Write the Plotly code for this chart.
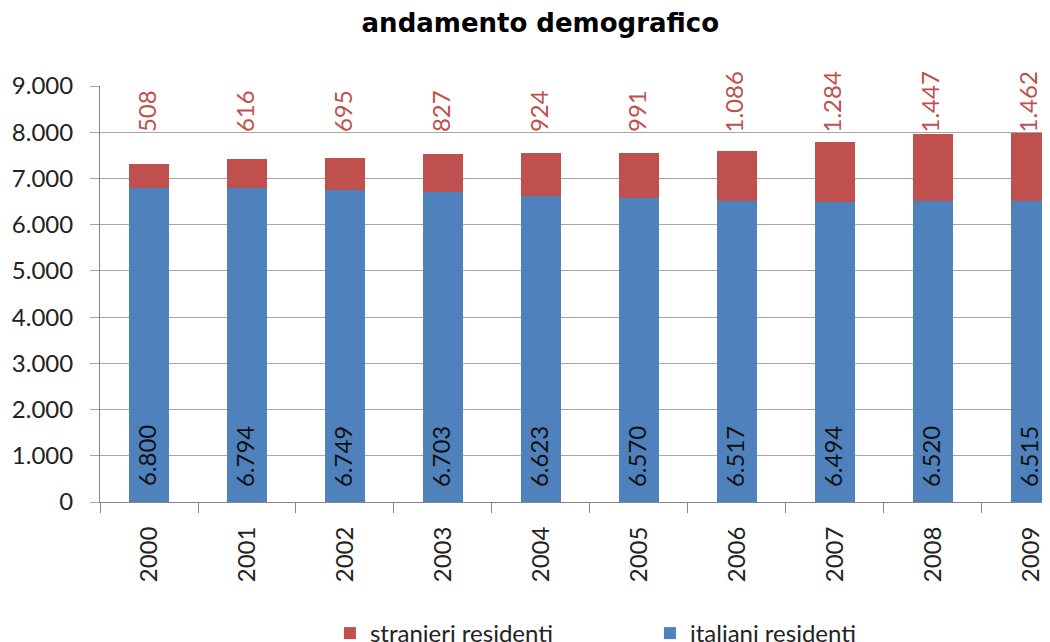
import plotly.graph_objects as go

years = ["2000", "2001", "2002", "2003", "2004", "2005", "2006", "2007", "2008", "2009"]
italiani = [6800, 6794, 6749, 6703, 6623, 6570, 6517, 6494, 6520, 6515]
stranieri = [508, 616, 695, 827, 924, 991, 1086, 1284, 1447, 1462]
y_ticks = [0, 1000, 2000, 3000, 4000, 5000, 6000, 7000, 8000, 9000]

BLUE = "#4F81BD"
RED = "#C0504D"
FONT = "Lato"


def fmt(v):
    return f"{v:,}".replace(",", ".")


fig = go.Figure()
fig.add_trace(go.Bar(x=years, y=italiani, name="italiani residenti",
                     marker=dict(color=BLUE, line=dict(width=0))))
fig.add_trace(go.Bar(x=years, y=stranieri, name="stranieri residenti",
                     marker=dict(color=RED, line=dict(width=0))))

annotations = []
for i, (it, st) in enumerate(zip(italiani, stranieri)):
    annotations.append(dict(x=i, y=7960, xref="x", yref="y", text=fmt(st),
                            textangle=-90, showarrow=False, yanchor="bottom",
                            xanchor="center", xshift=-3,
                            font=dict(family=FONT, size=24, color=RED)))
    annotations.append(dict(x=i, y=290, xref="x", yref="y", text=fmt(it),
                            textangle=-90, showarrow=False, yanchor="bottom",
                            xanchor="center", xshift=-3,
                            font=dict(family=FONT, size=24, color="#111111")))

fig.update_layout(
    width=1050, height=642,
    barmode="stack", bargap=0.59,
    separators=",.",
    plot_bgcolor="white", paper_bgcolor="white",
    margin=dict(l=92, r=0, t=78, b=148, autoexpand=False),
    title=dict(text="<b>andamento demografico</b>", x=0.507, xref="container", xanchor="center",
               y=0.977, yref="container", yanchor="middle",
               font=dict(family="DejaVu Sans", size=26, color="black")),
    font=dict(family=FONT, size=24, color="#222222"),
    legend=dict(orientation="h", traceorder="reversed", x=0.24, xanchor="left",
                y=-0.262, yanchor="top", font=dict(family=FONT, size=24, color="#222222"),
                entrywidth=275, entrywidthmode="pixels", itemwidth=30),
    annotations=annotations,
    showlegend=True,
)
fig.update_xaxes(type="category", range=[-0.5, 9.276], tickangle=-90, automargin=False,
                 showline=True, linecolor="#868686", linewidth=1,
                 ticks="outside", tickson="boundaries", ticklen=10, tickcolor="#868686",
                 ticklabelstandoff=14,
                 showgrid=False, tickfont=dict(family=FONT, size=24, color="#222222"))
fig.update_yaxes(range=[0, 9000], tickvals=y_ticks, ticktext=[fmt(v) for v in y_ticks],
                 automargin=False,
                 showline=True, linecolor="#868686", linewidth=1,
                 gridcolor="#A6A6A6", gridwidth=1, zeroline=False,
                 ticks="outside", ticklen=9, tickcolor="#A6A6A6",
                 ticklabelstandoff=12,
                 tickfont=dict(family=FONT, size=24, color="#222222"))

fig.write_html("out.html")
